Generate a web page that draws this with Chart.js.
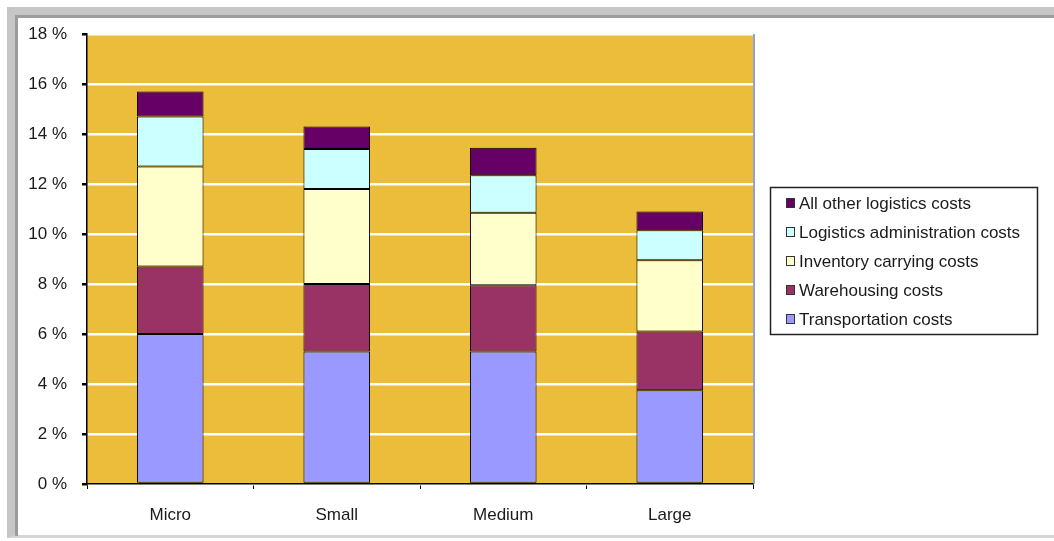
<!DOCTYPE html>
<html>
<head>
<meta charset="utf-8">
<script src="https://cdn.jsdelivr.net/npm/chart.js@4/dist/chart.umd.min.js"></script>
<style>
  html, body { margin: 0; padding: 0; background: #fff; }
  #wrap { position: relative; width: 1054px; height: 541px; overflow: hidden; }
  #marco {
    position: absolute; left: 7px; top: 7px; width: 1070px; height: 531px;
    border-left: 8px solid #c6c6c6; border-top: 8px solid #c6c6c6; border-bottom: 3px solid #d4d4d4;
    box-sizing: border-box;
  }
  #marco-int {
    position: absolute; left: 15px; top: 15px; width: 1060px; height: 521px;
    border-left: 3px solid #9c9c9c; border-top: 3px solid #9c9c9c;
    box-sizing: border-box;
  }
  canvas { position: absolute; left: 0; top: 0; }
</style>
</head>
<body>
<div id="wrap">
  <div id="marco"></div>
  <div id="marco-int"></div>
  <canvas id="grafica" width="1054" height="541"></canvas>
</div>
<script>
// Datos de la gráfica (porcentaje de ventas)
const categorias = ['Micro', 'Small', 'Medium', 'Large'];
const transporte = [6.0, 5.3, 5.3, 3.75];
const almacenaje = [2.7, 2.7, 2.65, 2.35];
const inventario = [4.0, 3.8, 2.9, 2.85];
const administracion = [2.0, 1.6, 1.5, 1.2];
const otros = [1.0, 0.9, 1.1, 0.75];
const etiquetasSeries = ['Transportation costs', 'Warehousing costs', 'Inventory carrying costs',
    'Logistics administration costs', 'All other logistics costs'];
const coloresSeries = ['#9999ff', '#993366', '#ffffcc', '#ccffff', '#660066'];
const ejeY = { min: 0, max: 18, paso: 2 };

const fuente = '"Liberation Sans", Arial, sans-serif';

// Fondo dorado del área de trazado y borde derecho
const fondoPlugin = {
    id: 'fondo',
    beforeDraw: (chart) => {
        const { ctx, chartArea: a } = chart;
        ctx.save();
        ctx.fillStyle = '#ebbd3b';
        ctx.fillRect(a.left, a.top, a.right - a.left, a.bottom - a.top);
        ctx.restore();
    },
    afterDraw: (chart) => {
        const { ctx, chartArea: a } = chart;
        ctx.save();
        ctx.strokeStyle = '#7080c0';
        ctx.lineWidth = 1.5;
        ctx.beginPath();
        ctx.moveTo(a.right + 1, a.top);
        ctx.lineTo(a.right + 1, a.bottom);
        ctx.stroke();
        ctx.restore();
    }
};

// Leyenda con recuadro (orden invertido, como en Excel)
const leyendaPlugin = {
    id: 'leyendaCaja',
    afterDraw: (chart) => {
        const { ctx } = chart;
        const x = 770, y = 187, w = 267, h = 147;
        ctx.save();
        ctx.fillStyle = '#fff';
        ctx.fillRect(x, y, w, h);
        ctx.strokeStyle = '#222';
        ctx.lineWidth = 1.5;
        ctx.strokeRect(x + 0.5, y + 0.5, w, h);
        ctx.font = '17px ' + fuente;
        ctx.textBaseline = 'middle';
        const sets = chart.data.datasets.slice().reverse();
        sets.forEach((ds, i) => {
            const cy = 203 + i * 29;
            ctx.fillStyle = ds.backgroundColor;
            ctx.fillRect(786, cy - 5, 9, 10);
            ctx.lineWidth = 1;
            ctx.strokeStyle = '#333';
            ctx.strokeRect(786.5, cy - 4.5, 8, 9);
            ctx.fillStyle = '#1a1a1a';
            ctx.fillText(ds.label, 799, cy + 1);
        });
        ctx.restore();
    }
};

const series = [transporte, almacenaje, inventario, administracion, otros];

const ctx = document.getElementById('grafica').getContext('2d');
const grafica = new Chart(ctx, {
    type: 'bar',
    data: {
        labels: categorias,
        datasets: series.map((valores, i) => ({
            label: etiquetasSeries[i],
            data: valores,
            backgroundColor: coloresSeries[i],
            borderColor: '#000',
            borderWidth: 1,
            borderSkipped: false,
            categoryPercentage: 1,
            barPercentage: 0.4
        }))
    },
    options: {
        responsive: false,
        animation: false,
        layout: { padding: { left: 7, top: 34, right: 301, bottom: 10 } },
        plugins: {
            legend: { display: false },
            tooltip: { enabled: false }
        },
        scales: {
            x: {
                stacked: true,
                offset: true,
                afterFit: (scale) => { scale.height = 47; },
                grid: {
                    offset: true,
                    drawOnChartArea: false,
                    tickColor: '#000',
                    tickLength: 5
                },
                border: { color: '#000', width: 1.5 },
                ticks: {
                    color: '#1a1a1a',
                    padding: 16,
                    font: { family: fuente, size: 17 }
                }
            },
            y: {
                stacked: true,
                min: ejeY.min,
                max: ejeY.max,
                afterFit: (scale) => { scale.width = 80; },
                grid: {
                    color: '#ffffff',
                    lineWidth: 2.5,
                    tickColor: '#000',
                    tickLength: 5
                },
                border: { color: '#000', width: 1.5 },
                ticks: {
                    stepSize: ejeY.paso,
                    color: '#1a1a1a',
                    padding: 15,
                    font: { family: fuente, size: 17 },
                    callback: (v) => v + ' %'
                }
            }
        }
    },
    plugins: [fondoPlugin, leyendaPlugin]
});
</script>
</body>
</html>
